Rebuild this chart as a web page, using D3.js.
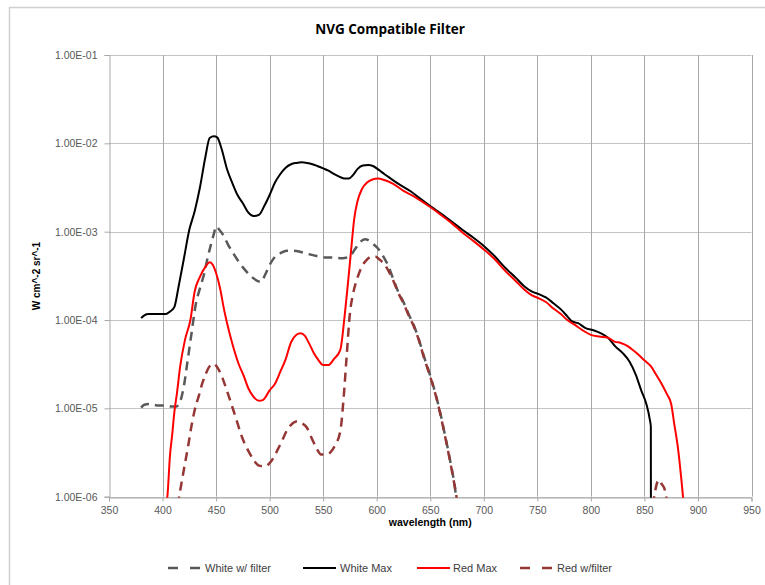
<!DOCTYPE html>
<html>
<head>
<meta charset="utf-8">
<script src="https://cdn.jsdelivr.net/npm/d3@7"></script>
<style>
  html, body { margin: 0; padding: 0; background: #fff; }
  svg { display: block; }
</style>
</head>
<body>
<svg id="chart" width="765" height="585"></svg>
<script>
// Spectral radiance of the light source with and without the NVG filter.
const titleText = "NVG Compatible Filter";
const xTitle = "wavelength (nm)";
const yTitle = "W cm^-2 sr^-1";

const xTicks = [350, 400, 450, 500, 550, 600, 650, 700, 750, 800, 850, 900, 950];
const yTicks = [1e-6, 1e-5, 1e-4, 1e-3, 1e-2, 1e-1];
const yTickLabels = ["1.00E-06", "1.00E-05", "1.00E-04", "1.00E-03", "1.00E-02", "1.00E-01"];

const seriesNames = ["White w/ filter", "White Max", "Red Max", "Red w/filter"];

// White Max
const whiteMaxNm = [380, 383, 387, 395, 403, 407, 411, 415, 420, 425, 430, 435, 440, 444, 448, 451, 455, 460, 465, 470,
  475, 480, 485, 490, 495, 500, 505, 510, 515, 520, 525, 530, 535, 540, 545, 550, 555, 560, 565, 570,
  574, 578, 582, 587, 592, 597, 602, 607, 613, 620, 632, 640, 650, 660, 670, 680, 690, 700, 710, 720,
  730, 738, 745, 752, 758, 765, 772, 778, 782, 788, 795, 803, 810, 816, 823, 830, 836, 842, 847, 852,
  855, 856, 856.2];
const whiteMaxVal = [1.05e-4, 1.13e-4, 1.17e-4, 1.17e-4, 1.17e-4, 1.25e-4, 1.4e-4, 2.4e-4, 5e-4, 1.05e-3, 1.7e-3, 3.2e-3, 7.0e-3, 1.15e-2, 1.2e-2, 1.17e-2, 8.8e-3, 5.2e-3, 3.6e-3, 2.6e-3,
  2.1e-3, 1.65e-3, 1.5e-3, 1.55e-3, 1.95e-3, 2.6e-3, 3.6e-3, 4.5e-3, 5.3e-3, 5.8e-3, 6.0e-3, 6.1e-3, 6.0e-3, 5.8e-3, 5.5e-3, 5.2e-3, 4.9e-3, 4.5e-3, 4.2e-3, 4.0e-3,
  4.0e-3, 4.4e-3, 5.1e-3, 5.6e-3, 5.7e-3, 5.5e-3, 5.0e-3, 4.5e-3, 4.0e-3, 3.5e-3, 2.85e-3, 2.4e-3, 1.95e-3, 1.6e-3, 1.3e-3, 1.05e-3, 8.6e-4, 6.9e-4, 5.3e-4, 3.9e-4,
  3.0e-4, 2.4e-4, 2.1e-4, 1.95e-4, 1.8e-4, 1.55e-4, 1.32e-4, 1.1e-4, 9.7e-5, 9.2e-5, 8.1e-5, 7.6e-5, 7.0e-5, 6.3e-5, 5.0e-5, 4.2e-5, 3.4e-5, 2.4e-5, 1.6e-5, 1.1e-5,
  7.5e-6, 6.2e-6, 1e-8];

// Red Max
const redMaxNm = [403, 404.5, 407, 409, 411, 413.5, 416.5, 421, 426, 430, 435, 440, 444, 447, 450, 454, 457, 460, 465, 471,
  476, 480, 485, 490, 494, 500, 505, 510, 515, 520, 525, 529, 533, 537, 541, 545, 550, 555, 560, 566,
  570, 573, 576, 579, 582, 586, 591, 596, 601, 607, 615, 625, 635, 650, 660, 670, 680, 690, 700, 710,
  720, 730, 738, 745, 752, 758, 765, 772, 778, 785, 792, 800, 808, 816, 822, 828, 834, 838, 844, 850,
  856, 861, 866, 871, 875, 878, 881, 884, 886, 887];
const redMaxVal = [8e-7, 1e-6, 3e-6, 5e-6, 9e-6, 1.5e-5, 3e-5, 6e-5, 1e-4, 2.1e-4, 3.1e-4, 4.0e-4, 4.5e-4, 4.2e-4, 3.4e-4, 2.2e-4, 1.4e-4, 9.5e-5, 5.5e-5, 3.2e-5,
  2.3e-5, 1.7e-5, 1.35e-5, 1.22e-5, 1.25e-5, 1.6e-5, 1.9e-5, 2.6e-5, 3.6e-5, 5.6e-5, 6.8e-5, 7.1e-5, 6.6e-5, 5.4e-5, 4.3e-5, 3.6e-5, 3.1e-5, 3.1e-5, 3.6e-5, 4.6e-5,
  1.1e-4, 2.5e-4, 6e-4, 1.4e-3, 2.2e-3, 3.0e-3, 3.6e-3, 3.9e-3, 4.0e-3, 3.85e-3, 3.5e-3, 2.9e-3, 2.5e-3, 1.9e-3, 1.55e-3, 1.25e-3, 9.8e-4, 7.9e-4, 6.3e-4, 4.9e-4,
  3.6e-4, 2.75e-4, 2.2e-4, 1.9e-4, 1.75e-4, 1.6e-4, 1.35e-4, 1.17e-4, 1.0e-4, 8.8e-5, 7.7e-5, 6.8e-5, 6.5e-5, 6.3e-5, 5.7e-5, 5.5e-5, 5.1e-5, 4.7e-5, 4.1e-5, 3.5e-5,
  3.0e-5, 2.4e-5, 1.9e-5, 1.45e-5, 1.12e-5, 6.5e-6, 3.8e-6, 1.8e-6, 1e-6, 7e-7];

// White w/ filter
const whiteFiltNm = [380, 383, 388, 395, 403, 408, 413, 417, 420, 423, 427, 431, 435, 439, 442, 445, 448, 450, 453, 457,
  461, 466, 471, 477, 483, 488, 492, 496, 500, 505, 510, 516, 522, 529, 536, 544, 552, 560, 568, 575,
  580, 584, 589, 593, 597, 601, 606, 610, 616, 620, 625.5, 630, 635, 640, 644, 648, 652, 656, 660, 663,
  666, 669, 671, 673, 674, 675];
const whiteFiltVal = [1.02e-5, 1.1e-5, 1.12e-5, 1.08e-5, 1.08e-5, 1.05e-5, 1.05e-5, 1.25e-5, 1.8e-5, 3.2e-5, 7e-5, 1.5e-4, 2.3e-4, 3.4e-4, 5e-4, 7e-4, 9.5e-4, 1.15e-3, 1.05e-3, 9e-4,
  7.2e-4, 5.7e-4, 4.6e-4, 3.7e-4, 3.1e-4, 2.8e-4, 2.7e-4, 3.3e-4, 4.2e-4, 5.2e-4, 5.7e-4, 6.1e-4, 6.1e-4, 5.9e-4, 5.6e-4, 5.3e-4, 5.1e-4, 5.1e-4, 5.0e-4, 5.3e-4,
  6.4e-4, 7.5e-4, 8.2e-4, 7.9e-4, 7.2e-4, 6.5e-4, 5.3e-4, 4.3e-4, 2.8e-4, 2.1e-4, 1.55e-4, 1.15e-4, 8.5e-5, 5.7e-5, 3.9e-5, 2.8e-5, 1.95e-5, 1.3e-5, 8.2e-6, 5.5e-6,
  3.7e-6, 2.4e-6, 1.8e-6, 1.3e-6, 1e-6, 8e-7];

// Red w/filter (null marks the break between the two pieces)
const redFiltNm = [414, 415.5, 418, 421, 424, 427, 430, 434, 437, 440, 444, 448, 452, 456, 460, 465, 470, 474, 478, 482,
  486, 490, 496, 500, 504, 508, 512, 516, 520, 525, 530, 535, 540, 544, 548, 553, 557, 561, 566, 569,
  572, 575, 578, 582, 586, 590, 595, 599, 603, 607, 611, 616, 620, 625.5, 630, 635, 640, 644, 648, 652,
  656, 660, 663, 666, 669, 671, 673, 674.5, 676, 760, 858, 860, 862.5, 864, 866, 869, 871];
const redFiltVal = [8e-7, 1e-6, 1.5e-6, 2.4e-6, 3.8e-6, 6.3e-6, 9.5e-6, 1.4e-5, 1.9e-5, 2.4e-5, 3.0e-5, 3.2e-5, 2.8e-5, 2.2e-5, 1.6e-5, 1.05e-5, 6.8e-6, 4.8e-6, 3.7e-6, 3.0e-6,
  2.5e-6, 2.25e-6, 2.2e-6, 2.4e-6, 2.8e-6, 3.5e-6, 4.4e-6, 5.6e-6, 6.5e-6, 7.1e-6, 6.8e-6, 6.0e-6, 4.4e-6, 3.5e-6, 3.0e-6, 3.0e-6, 3.2e-6, 3.8e-6, 5.5e-6, 1.26e-5,
  4.0e-5, 1.2e-4, 2.0e-4, 3.0e-4, 4.0e-4, 4.7e-4, 5.2e-4, 5.2e-4, 4.8e-4, 4.3e-4, 3.6e-4, 2.7e-4, 2.05e-4, 1.5e-4, 1.12e-4, 8.3e-5, 5.6e-5, 3.8e-5, 2.7e-5, 1.9e-5,
  1.28e-5, 8e-6, 5.4e-6, 3.6e-6, 2.35e-6, 1.75e-6, 1.28e-6, 1e-6, 7e-7, null, 8e-7, 1.15e-6, 1.5e-6, 1.55e-6, 1.4e-6, 1.2e-6, 9e-7];

const seriesColors = ["#595959", "#000000", "#ff0000", "#953735"];
const seriesDash = ["9,6", null, null, "9,6"];
const seriesWidth = [2.5, 2, 2, 2.5];

const svg = d3.select("#chart");
const plot = { left: 109, right: 751.5, top: 55, bottom: 496.7 };

const x = d3.scaleLinear().domain([350, 950]).range([plot.left, plot.right]);
const y = d3.scaleLog().domain([1e-6, 1e-1]).range([plot.bottom, plot.top]);

// chart frame
svg.append("rect").attr("x", 9.5).attr("y", 7.5).attr("width", 800).attr("height", 600)
  .attr("fill", "#fff").attr("stroke", "#d0d0d0").attr("stroke-width", 1.5);

// title
svg.append("text").attr("x", 390).attr("y", 34).attr("text-anchor", "middle")
  .attr("font-family", "'Open Sans', sans-serif").attr("font-weight", "bold").attr("font-size", 13.5)
  .attr("fill", "#000").text(titleText);

// grid
const grid = svg.append("g");
grid.selectAll("line.h").data(yTicks).join("line").attr("class", "h")
  .attr("x1", plot.left).attr("x2", plot.right)
  .attr("y1", d => Math.round(y(d)) + 0.5).attr("y2", d => Math.round(y(d)) + 0.5)
  .attr("stroke", "#c4c4c4").attr("stroke-width", 1);
grid.selectAll("line.v").data(xTicks.slice(1)).join("line").attr("class", "v")
  .attr("x1", d => Math.round(x(d)) + 0.5).attr("x2", d => Math.round(x(d)) + 0.5)
  .attr("y1", plot.top).attr("y2", plot.bottom)
  .attr("stroke", "#a8a8a8").attr("stroke-width", 1);

// axes
const yAxis = d3.axisLeft(y).tickValues(yTicks).tickFormat((d, i) => yTickLabels[i]).tickSize(5).tickPadding(7);
const xAxis = d3.axisBottom(x).tickValues(xTicks).tickFormat(d3.format("d")).tickSize(4).tickPadding(5);

const gy = svg.append("g").attr("transform", `translate(${plot.left + 0.5},0)`).call(yAxis);
const gx = svg.append("g").attr("transform", `translate(0,${Math.round(plot.bottom) + 0.5})`).call(xAxis);
[gy, gx].forEach(g => {
  g.select(".domain").attr("stroke", "#a8a8a8");
  g.selectAll(".tick line").attr("stroke", "#a8a8a8");
  g.selectAll("text").attr("font-family", "'Liberation Sans', Arial, sans-serif")
    .attr("font-size", 10.5).attr("fill", "#595959");
});

// axis titles
svg.append("text").attr("x", (plot.left + plot.right) / 2).attr("y", 526).attr("text-anchor", "middle")
  .attr("font-family", "'Liberation Sans', Arial, sans-serif").attr("font-weight", "bold").attr("font-size", 10.5)
  .attr("fill", "#000").text(xTitle);
svg.append("text").attr("transform", "translate(40,276) rotate(-90)").attr("text-anchor", "middle")
  .attr("font-family", "'Liberation Sans', Arial, sans-serif").attr("font-weight", "bold").attr("font-size", 10)
  .attr("fill", "#000").text(yTitle);

// series
svg.append("clipPath").attr("id", "plotClip").append("rect")
  .attr("x", plot.left).attr("y", plot.top).attr("width", plot.right - plot.left).attr("height", plot.bottom - plot.top + 1);

const seriesData = [
  d3.zip(whiteFiltNm, whiteFiltVal),
  d3.zip(whiteMaxNm, whiteMaxVal),
  d3.zip(redMaxNm, redMaxVal),
  d3.zip(redFiltNm, redFiltVal)
];

const line = d3.line()
  .defined(d => d[1] != null)
  .x(d => x(d[0])).y(d => y(d[1]))
  .curve(d3.curveMonotoneX);

const lines = svg.append("g").attr("clip-path", "url(#plotClip)");
seriesData.forEach((data, i) => {
  lines.append("path").datum(data).attr("d", line)
    .attr("fill", "none").attr("stroke", seriesColors[i]).attr("stroke-width", seriesWidth[i])
    .attr("stroke-linejoin", "round")
    .attr("stroke-dasharray", seriesDash[i]);
});

// legend
const legendItems = [
  { x: 168, tx: 205 },
  { x: 303, tx: 340 },
  { x: 417, tx: 453 },
  { x: 520, tx: 557 }
];
const legend = svg.append("g").attr("transform", "translate(0,568)");
legendItems.forEach((it, i) => {
  legend.append("line").attr("x1", it.x).attr("x2", it.x + 33).attr("y1", 0).attr("y2", 0)
    .attr("stroke", seriesColors[i]).attr("stroke-width", seriesWidth[i])
    .attr("stroke-dasharray", seriesDash[i] ? "10,12" : null);
  legend.append("text").attr("x", it.tx).attr("y", 4)
    .attr("font-family", "'Liberation Sans', Arial, sans-serif").attr("font-size", 11)
    .attr("fill", "#404040").text(seriesNames[i]);
});
</script>
</body>
</html>
